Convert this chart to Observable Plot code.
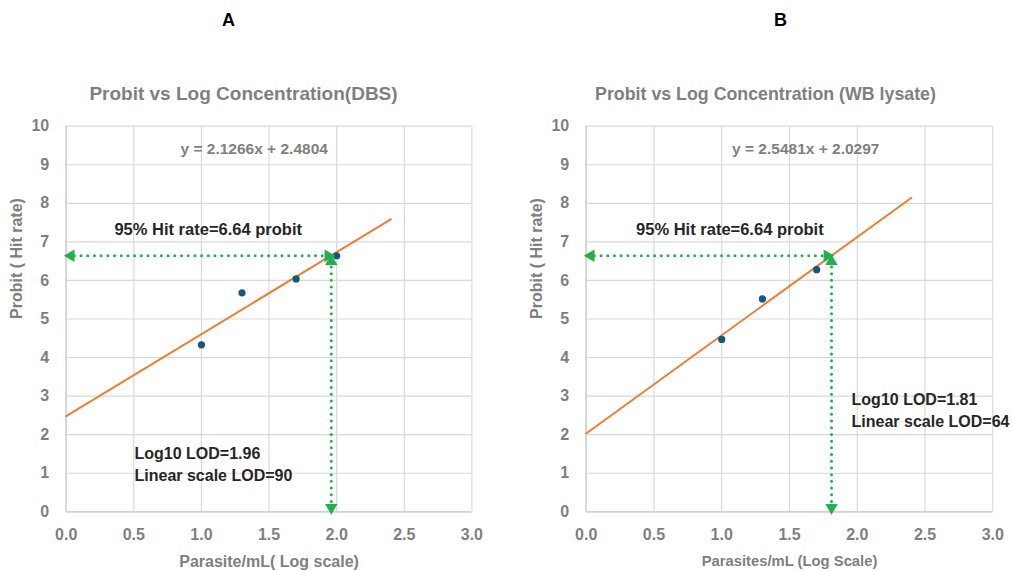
<!DOCTYPE html>
<html>
<head>
<meta charset="utf-8">
<script src="https://cdn.jsdelivr.net/npm/d3@7"></script>
<script src="https://cdn.jsdelivr.net/npm/@observablehq/plot@0.6"></script>
<style>
  body { margin: 0; background: #fff; }
  #wrap { display: flex; width: 1012px; height: 571px; }
  #wrap svg { flex: none; }
</style>
</head>
<body>
<div id="wrap"></div>
<script>
// ---- data ----
const panelLetters = ["A", "B"];
const titles = ["Probit vs Log Concentration(DBS)", "Probit vs Log Concentration (WB lysate)"];
const xLabels = ["Parasite/mL( Log scale)", "Parasites/mL (Log Scale)"];
const yLabel = "Probit ( Hit rate)";
const logConcA = [1.0, 1.3, 1.7, 2.0];
const probitA = [4.33, 5.68, 6.04, 6.64];
const logConcB = [1.0, 1.3, 1.7];
const probitB = [4.47, 5.52, 6.28];
const slopes = [2.1266, 2.5481];
const intercepts = [2.4804, 2.0297];
const trendRange = [0, 2.4];
const equations = ["y = 2.1266x + 2.4804", "y = 2.5481x + 2.0297"];
const hitProbit = 6.64;
const hitLabel = "95% Hit rate=6.64 probit";
const lodLog = [1.96, 1.81];
const lodLines = [["Log10 LOD=1.96", "Linear scale LOD=90"], ["Log10 LOD=1.81", "Linear scale LOD=64"]];
const xTicks = [0, 0.5, 1, 1.5, 2, 2.5, 3];
const yTicks = [0, 1, 2, 3, 4, 5, 6, 7, 8, 9, 10];

const FONT = "'Liberation Sans', Arial, sans-serif";
const GRAY = "#7f7f7f";
const GREEN = "#22b04b";

function panel(i, xs, ys, margins, letterX, titleX, titleSize, xLabelSize, eqPos, hitPos, lodPos, lodArrowX) {
  const pts = xs.map((x, k) => ({x, y: ys[k]}));
  const trend = trendRange.map(x => ({x, y: slopes[i] * x + intercepts[i]}));
  const lod = lodLog[i];
  return Plot.plot({
    width: 506, height: 571,
    marginLeft: margins[0], marginRight: margins[1], marginTop: 125.7, marginBottom: 59.7,
    style: {fontFamily: FONT, background: "#fff"},
    x: {domain: [0, 3]},
    y: {domain: [0, 10]},
    marks: [
      Plot.gridX(xTicks, {stroke: "#d9d9d9", strokeOpacity: 1, strokeWidth: 1.2}),
      Plot.gridY(yTicks, {stroke: "#d9d9d9", strokeOpacity: 1, strokeWidth: 1.2}),
      Plot.ruleX([0], {stroke: "#d0d0d0", strokeWidth: 1.5}),
      Plot.ruleY([0], {stroke: "#d0d0d0", strokeWidth: 1.5}),
      Plot.axisX(xTicks, {tickSize: 0, tickPadding: 17, tickFormat: d3.format(".1f"), fontSize: 16, fontWeight: "bold", fill: GRAY, label: null}),
      Plot.axisY(yTicks, {tickSize: 0, tickPadding: 17, fontSize: 16, fontWeight: "bold", fill: GRAY, label: null}),
      // dotted guide lines
      Plot.line([{x: 0.06, y: hitProbit}, {x: lodArrowX - 0.03, y: hitProbit}], {x: "x", y: "y", stroke: GREEN, strokeWidth: 3, strokeDasharray: "0 6.7", strokeLinecap: "round"}),
      Plot.line([{x: lod, y: 6.35}, {x: lod, y: 0.2}], {x: "x", y: "y", stroke: GREEN, strokeWidth: 3, strokeDasharray: "0 6.7", strokeLinecap: "round"}),
      Plot.line(trend, {x: "x", y: "y", stroke: "#ed7d31", strokeWidth: 2}),
      Plot.dot(pts, {x: "x", y: "y", r: 3.6, fill: "#0f5a7e"}),
      // arrowheads
      Plot.dot([{x: 0.035, y: hitProbit, a: -90}, {x: lodArrowX, y: hitProbit, a: 90}, {x: lod, y: 6.49, a: 0}, {x: lod, y: 0.11, a: 180}],
        {x: "x", y: "y", rotate: "a", symbol: "triangle", r: 4.6, fill: GREEN}),
      // annotations
      Plot.text([equations[i]], {x: eqPos[0], y: eqPos[1], fontSize: 15.5, fontWeight: "bold", fill: GRAY}),
      Plot.text([hitLabel], {x: hitPos[0], y: hitPos[1], fontSize: 16.5, fontWeight: "bold", fill: "#262626"}),
      Plot.text([lodLines[i][0]], {x: lodPos[0], y: lodPos[1], textAnchor: "start", fontSize: 16, fontWeight: "bold", fill: "#262626"}),
      Plot.text([lodLines[i][1]], {x: lodPos[0], y: lodPos[2], textAnchor: "start", fontSize: 16, fontWeight: "bold", fill: "#262626"}),
      // titles and axis labels
      Plot.text([panelLetters[i]], {x: letterX, frameAnchor: "top", lineAnchor: "middle", dy: -105.7, fontSize: 18, fontWeight: "bold", fill: "#000"}),
      Plot.text([titles[i]], {x: titleX, frameAnchor: "top", lineAnchor: "middle", dy: -32, fontSize: titleSize, fontWeight: "bold", fill: GRAY}),
      Plot.text([xLabels[i]], {frameAnchor: "bottom", lineAnchor: "middle", dy: 49.6, fontSize: xLabelSize, fontWeight: "bold", fill: GRAY}),
      Plot.text([yLabel], {frameAnchor: "left", lineAnchor: "middle", dx: -49, rotate: -90, fontSize: 16, fontWeight: "bold", fill: GRAY})
    ]
  });
}

const wrap = document.getElementById("wrap");
wrap.append(panel(0, logConcA, probitA, [65.7, 34.6], 1.20, 1.311, 19, 16, [1.39, 9.42], [1.05, 7.31], [0.505, 1.50, 0.94], 1.937));
wrap.append(panel(1, logConcB, probitB, [79.7, 19.7], 1.434, 1.323, 17.8, 14.8, [1.62, 9.42], [1.06, 7.31], [1.958, 2.89, 2.32], 1.778));
</script>
</body>
</html>
